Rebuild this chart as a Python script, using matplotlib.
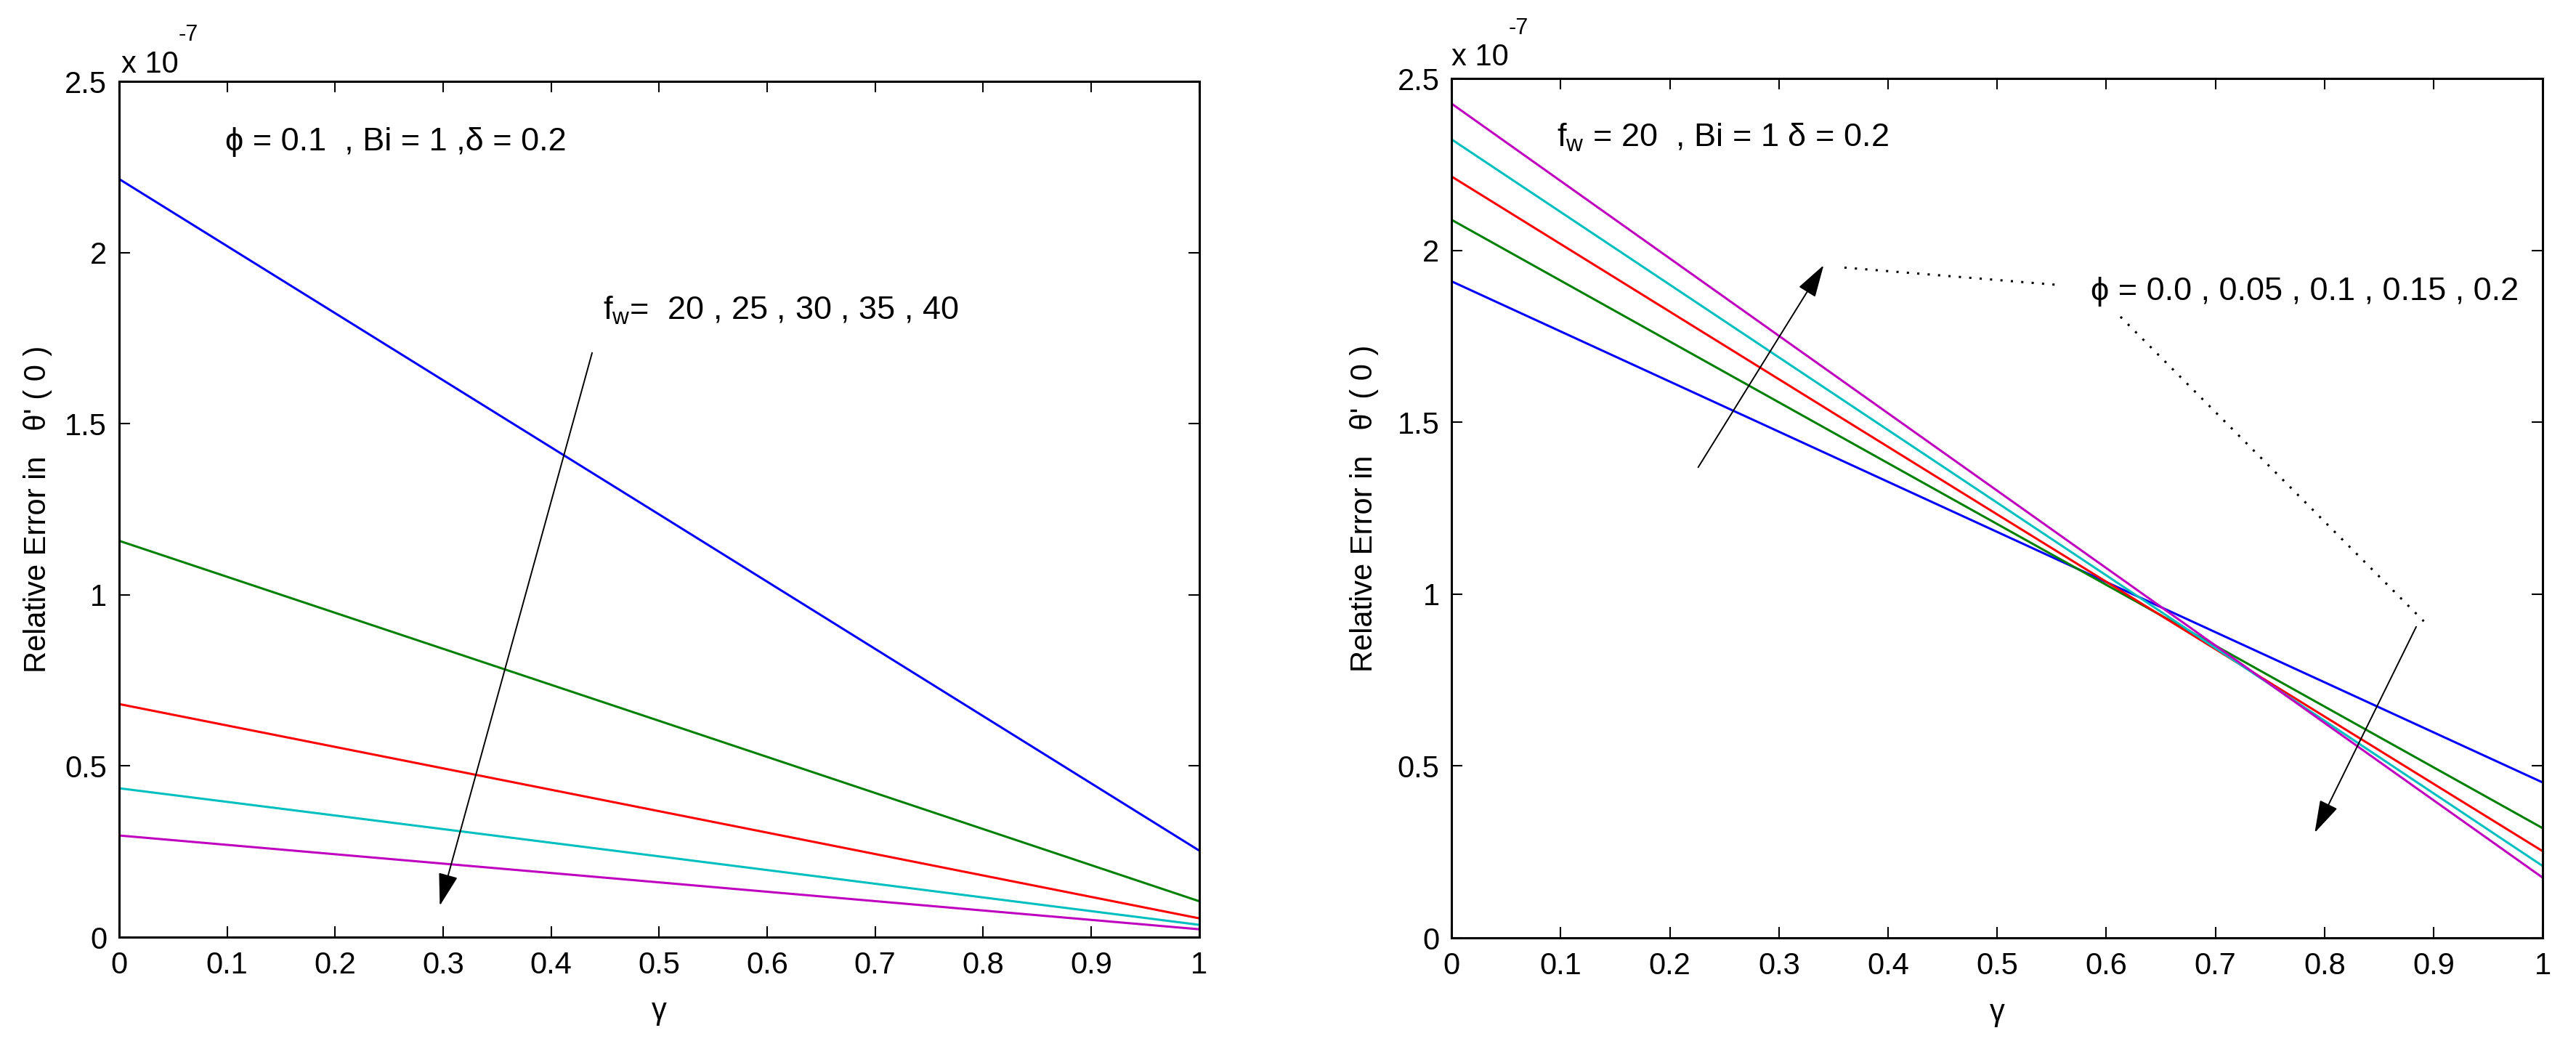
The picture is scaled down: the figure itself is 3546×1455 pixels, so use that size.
import numpy as np
import matplotlib
matplotlib.use('Agg')
import matplotlib.pyplot as plt

plt.rcParams['font.family'] = ['Liberation Sans', 'DejaVu Sans']
plt.rcParams['mathtext.fontset'] = 'custom'
plt.rcParams['mathtext.rm'] = 'Liberation Sans'
plt.rcParams['mathtext.it'] = 'Liberation Sans'
plt.rcParams['mathtext.default'] = 'regular'

# values are in units of 1e-7
gamma = [0.0, 0.5, 1.0]

# left panel: phi = 0.1, Bi = 1, delta = 0.2, f_w varies
fw20 = [2.215, 1.235, 0.253]
fw25 = [1.158, 0.632, 0.105]
fw30 = [0.681, 0.368, 0.055]
fw35 = [0.435, 0.236, 0.036]
fw40 = [0.297, 0.160, 0.023]

# right panel: f_w = 20, Bi = 1, delta = 0.2, phi varies
phi00 = [1.910, 1.181, 0.452]
phi05 = [2.089, 1.204, 0.319]
phi10 = [2.215, 1.232, 0.252]
phi15 = [2.323, 1.266, 0.209]
phi20 = [2.427, 1.301, 0.175]

colors = ['#0000ff', '#008000', '#ff0000', '#00bfbf', '#bf00bf']
fs = 30     # ticks / labels
fs_txt = 32.5   # annotations inside the axes

fig = plt.figure(figsize=(35.46, 14.55), dpi=100)
ax1 = fig.add_axes([0.0462, 0.1134, 0.4193, 0.8096])
ax2 = fig.add_axes([0.5635, 0.1127, 0.4236, 0.8130])


def style(ax, ylab_x):
    ax.set_xlim(0, 1)
    ax.set_ylim(0, 2.5)
    ax.set_xticks(np.arange(0, 1.01, 0.1))
    ax.set_xticklabels(['0', '0.1', '0.2', '0.3', '0.4', '0.5', '0.6', '0.7', '0.8', '0.9', '1'])
    ax.set_yticks([0, 0.5, 1, 1.5, 2, 2.5])
    ax.set_yticklabels(['0', '0.5', '1', '1.5', '2', '2.5'])
    ax.tick_params(direction='in', length=11, width=1.5, top=True, right=True,
                   labelsize=fs)
    ax.tick_params(axis='x', pad=14)
    ax.tick_params(axis='y', pad=12)
    for s in ax.spines.values():
        s.set_linewidth(2.2)
    ax.set_xlabel('γ', fontsize=fs)
    ax.set_ylabel("Relative Error in   θ' ( 0 )", fontsize=fs)
    ax.xaxis.set_label_coords(0.5, -0.07)
    ax.yaxis.set_label_coords(ylab_x, 0.5)


def exponent(ax, x, y):
    t = ax.text(x, y, 'x 10', transform=ax.transAxes, fontsize=fs, va='baseline', ha='left')
    ax.annotate('-7', xy=(1, 1), xycoords=t, xytext=(0, 4), textcoords='offset points',
                fontsize=22, va='bottom', ha='left')


arrow = dict(arrowstyle='-|>,head_length=1.4,head_width=0.42',
             mutation_scale=20, lw=1.4, color='k', shrinkA=0, shrinkB=0)

# left panel
for vals, c in zip([fw20, fw25, fw30, fw35, fw40], colors):
    ax1.plot(gamma, vals, color=c, lw=2.2)
style(ax1, -0.062)
exponent(ax1, 0.002, 1.0102)
ax1.text(0.098, 2.298, 'ϕ = 0.1  , Bi = 1 ,δ = 0.2', fontsize=fs_txt, va='baseline')
ax1.text(0.448, 1.804, r'f$_{w}$=  20 , 25 , 30 , 35 , 40', fontsize=fs_txt, va='baseline')
ax1.annotate('', xy=(0.297, 0.092), xytext=(0.438, 1.707), arrowprops=arrow)

# right panel
for vals, c in zip([phi00, phi05, phi10, phi15, phi20], colors):
    ax2.plot(gamma, vals, color=c, lw=2.2)
style(ax2, -0.0666)
exponent(ax2, 0.0, 1.0152)
ax2.text(0.0965, 2.302, r'f$_{w}$ = 20  , Bi = 1 δ = 0.2', fontsize=fs_txt, va='baseline')
ax2.text(0.586, 1.855, 'ϕ = 0.0 , 0.05 , 0.1 , 0.15 , 0.2', fontsize=fs_txt, va='baseline')
ax2.annotate('', xy=(0.341, 1.957), xytext=(0.226, 1.369), arrowprops=arrow)
ax2.annotate('', xy=(0.791, 0.306), xytext=(0.884, 0.905), arrowprops=arrow)
ax2.plot([0.360, 0.554], [1.950, 1.900], color='k', lw=2.2, linestyle=(0, (1, 3.7)))
ax2.plot([0.613, 0.891], [1.807, 0.921], color='k', lw=2.2, linestyle=(0, (1, 3.7)))

fig.savefig('out.png', dpi=100)
